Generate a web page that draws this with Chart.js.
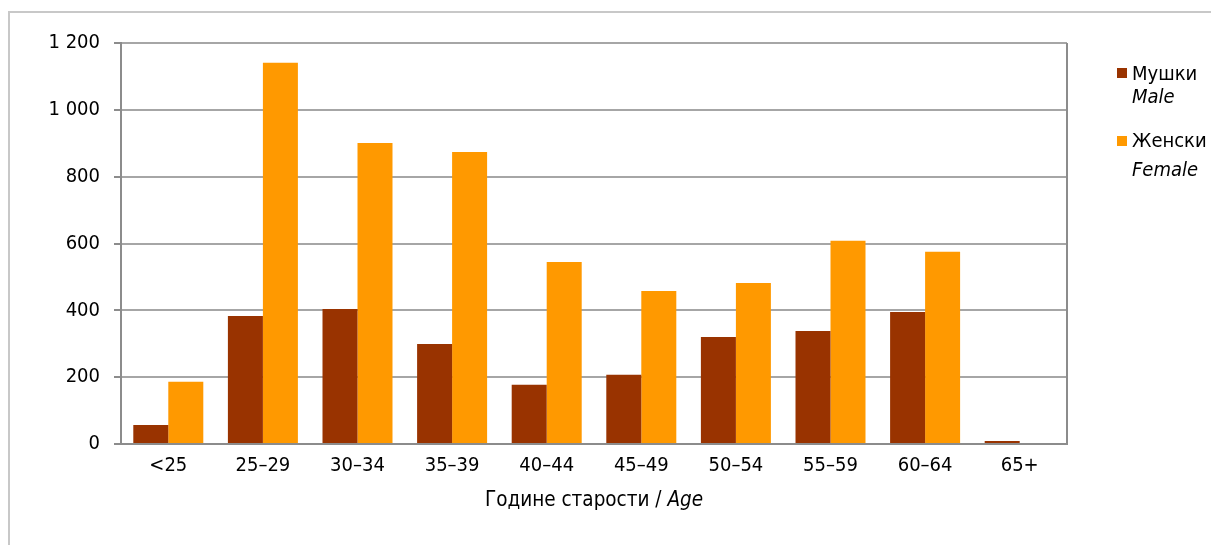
<!DOCTYPE html>
<html>
<head>
<meta charset="utf-8">
<script src="https://cdn.jsdelivr.net/npm/chart.js@4.4.1/dist/chart.umd.min.js"></script>
<style>
  html, body { margin: 0; padding: 0; background: #fff; }
  #wrap { position: relative; width: 1211px; height: 545px; }
</style>
</head>
<body>
<div id="wrap"><canvas id="c" width="1211" height="545"></canvas></div>
<script>
const categories = ['<25', '25–29', '30–34', '35–39', '40–44', '45–49', '50–54', '55–59', '60–64', '65+'];
const maleValues = [57, 383, 404, 299, 177, 207, 320, 338, 395, 9];
const femaleValues = [186, 1141, 901, 874, 545, 458, 482, 608, 575, 3];
const yTickValues = [0, 200, 400, 600, 800, 1000, 1200];
const yTickLabels = ['0', '200', '400', '600', '800', '1 000', '1 200'];
const seriesNames = ['Мушки', 'Женски'];
const seriesNamesEn = ['Male', 'Female'];
const axisTitleMain = 'Године старости / ';
const axisTitleItalic = 'Age';

const FONT = "'DejaVu Sans Condensed', 'DejaVu Sans', sans-serif";
const maleColor = '#993300';
const femaleColor = '#FF9900';

const decor = {
  id: 'decor',
  beforeDraw(chart) {
    const ctx = chart.ctx;
    ctx.save();
    ctx.strokeStyle = '#c8c8c8';
    ctx.lineWidth = 2;
    ctx.beginPath();
    ctx.moveTo(9, 545);
    ctx.lineTo(9, 12);
    ctx.lineTo(1211, 12);
    ctx.stroke();
    ctx.restore();
  },
  afterDraw(chart) {
    const ctx = chart.ctx;
    const a = chart.chartArea;
    ctx.save();
    ctx.strokeStyle = '#8c8c8c';
    ctx.lineWidth = 2;
    ctx.beginPath();
    ctx.moveTo(a.right, a.top);
    ctx.lineTo(a.right, a.bottom + 1);
    ctx.stroke();

    ctx.fillStyle = '#000';
    ctx.textBaseline = 'alphabetic';
    const ts = 20.5;
    ctx.font = ts + 'px ' + FONT;
    const w1 = ctx.measureText(axisTitleMain).width;
    ctx.font = 'italic ' + ts + 'px ' + FONT;
    const w2 = ctx.measureText(axisTitleItalic).width;
    const cx = (a.left + a.right) / 2;
    let x0 = cx - (w1 + w2) / 2;
    ctx.textAlign = 'left';
    ctx.font = ts + 'px ' + FONT;
    ctx.fillText(axisTitleMain, x0, 506);
    ctx.font = 'italic ' + ts + 'px ' + FONT;
    ctx.fillText(axisTitleItalic, x0 + w1, 506);

    const colors = [maleColor, femaleColor];
    const sqY = [68, 136];
    const base1 = [80, 147];
    const base2 = [103, 176];
    for (let i = 0; i < 2; i++) {
      ctx.fillStyle = colors[i];
      ctx.fillRect(1117, sqY[i], 10, 10);
      ctx.fillStyle = '#000';
      ctx.font = '20px ' + FONT;
      ctx.fillText(seriesNames[i], 1132, base1[i]);
      ctx.font = 'italic 20px ' + FONT;
      ctx.fillText(seriesNamesEn[i], 1132, base2[i]);
    }
    ctx.restore();
  }
};

new Chart(document.getElementById('c'), {
  type: 'bar',
  data: {
    labels: categories,
    datasets: [
      { label: seriesNames[0], data: maleValues, backgroundColor: maleColor, borderWidth: 0,
        categoryPercentage: 0.74, barPercentage: 1.0 },
      { label: seriesNames[1], data: femaleValues, backgroundColor: femaleColor, borderWidth: 0,
        categoryPercentage: 0.74, barPercentage: 1.0 }
    ]
  },
  options: {
    responsive: false,
    animation: false,
    layout: { padding: { left: 0, top: 43, right: 144, bottom: 0 } },
    plugins: { legend: { display: false }, tooltip: { enabled: false } },
    scales: {
      x: {
        afterFit(s) { s.height = 101; },
        grid: { display: false, drawTicks: false },
        border: { display: true, color: '#8c8c8c', width: 2 },
        ticks: { color: '#000', font: { family: FONT, size: 20 }, padding: 10, maxRotation: 0, autoSkip: false }
      },
      y: {
        min: 0, max: 1200,
        afterFit(s) { s.width = 121; },
        afterBuildTicks(s) { s.ticks = yTickValues.map(v => ({ value: v })); },
        grid: { color: '#a6a6a6', lineWidth: 2, tickLength: 7, tickColor: '#8c8c8c' },
        border: { display: true, color: '#8c8c8c', width: 2 },
        ticks: {
          color: '#000', font: { family: FONT, size: 20 }, padding: 14,
          callback(v) { const i = yTickValues.indexOf(v); return i >= 0 ? yTickLabels[i] : ''; }
        }
      }
    }
  },
  plugins: [decor]
});
</script>
</body>
</html>
